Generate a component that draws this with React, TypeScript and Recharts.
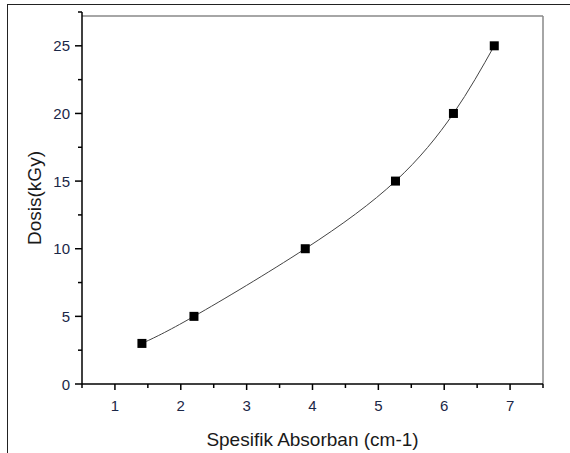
import { ComposedChart, Line, Scatter, XAxis, YAxis, ReferenceLine } from "recharts";

const absorban = [1.41, 2.2, 3.89, 5.26, 6.14, 6.76];
const dosis = [3, 5, 10, 15, 20, 25];
const xTicks = [0.5, 1, 1.5, 2, 2.5, 3, 3.5, 4, 4.5, 5, 5.5, 6, 6.5, 7, 7.5];
const yTicks = [0, 2.5, 5, 7.5, 10, 12.5, 15, 17.5, 20, 22.5, 25, 27.5];

const data = absorban.map((x, i) => ({ x, y: dosis[i] }));

const labelColor = "#1b2747";

function XTick({ x, y, payload }: any) {
  const major = Number.isInteger(payload.value);
  return (
    <g>
      <line x1={x} x2={x} y1={y} y2={y + (major ? 6 : 4)} stroke="#000" strokeWidth={1.5} />
      {major && (
        <text x={x} y={y + 27} textAnchor="middle" fontSize={15} fill={labelColor}>
          {payload.value}
        </text>
      )}
    </g>
  );
}

function YTick({ x, y, payload }: any) {
  const major = payload.value % 5 === 0;
  return (
    <g>
      <line x1={x} x2={x - (major ? 7 : 4)} y1={y} y2={y} stroke="#000" strokeWidth={1.5} />
      {major && (
        <text x={x - 12} y={y + 5.5} textAnchor="end" fontSize={15} fill={labelColor}>
          {payload.value}
        </text>
      )}
    </g>
  );
}

const Square = ({ cx, cy }: any) => <rect x={cx - 4.5} y={cy - 4.5} width={9} height={9} fill="#000" />;

export default function App() {
  return (
    <div
      style={{
        position: "absolute",
        left: 0,
        top: 0,
        width: 570,
        height: 453,
        background: "#fff",
        fontFamily: "'Liberation Sans', Arial, sans-serif",
      }}
    >
      <div
        style={{
          position: "absolute",
          left: 7,
          top: 4,
          right: 0,
          bottom: 0,
          borderTop: "1.5px solid #222",
          borderLeft: "1.5px solid #222",
        }}
      />
      <div style={{ position: "absolute", left: 0, top: 0 }}>
        <ComposedChart width={570} height={453} data={data} margin={{ top: 12, right: 27, bottom: 0, left: 22 }}>
          <ReferenceLine y={27.2} stroke="#888" strokeWidth={1.5} />
          <ReferenceLine
            segment={[
              { x: 7.5, y: 0 },
              { x: 7.5, y: 27.2 },
            ]}
            stroke="#888"
            strokeWidth={1.5}
          />
          <XAxis
            dataKey="x"
            type="number"
            domain={[0.5, 7.5]}
            ticks={xTicks}
            interval={0}
            height={69}
            tickSize={0}
            tickMargin={0}
            tickLine={false}
            axisLine={{ stroke: "#000", strokeWidth: 1.5 }}
            tick={<XTick />}
            label={{
              value: "Spesifik Absorban (cm-1)",
              position: "insideBottom",
              offset: 7,
              fontSize: 19,
              fill: "#1a1a1a",
            }}
          />
          <YAxis
            type="number"
            domain={[0, 27.5]}
            ticks={yTicks}
            interval={0}
            width={60}
            tickSize={0}
            tickMargin={0}
            tickLine={false}
            axisLine={{ stroke: "#000", strokeWidth: 1.5 }}
            tick={<YTick />}
            label={{
              value: "Dosis(kGy)",
              angle: -90,
              position: "insideLeft",
              offset: 12,
              fontSize: 19,
              fill: "#1a1a1a",
              style: { textAnchor: "middle" },
            }}
          />
          <Line
            dataKey="y"
            type="natural"
            stroke="#444"
            strokeWidth={1}
            dot={false}
            activeDot={false}
            isAnimationActive={false}
          />
          <Scatter dataKey="y" shape={<Square />} isAnimationActive={false} />
        </ComposedChart>
      </div>
    </div>
  );
}
